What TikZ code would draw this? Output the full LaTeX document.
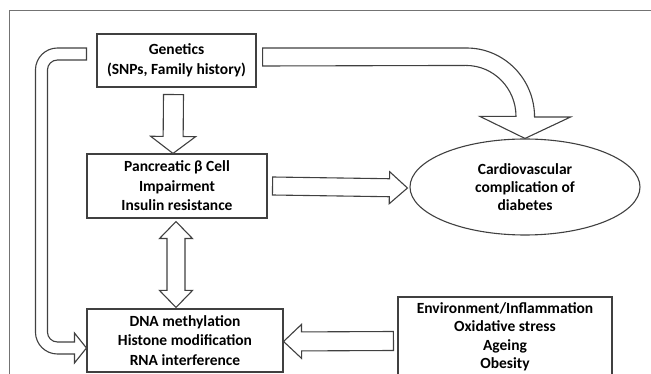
\documentclass[tikz,border=0pt]{standalone}
\usepackage{fontspec}
\setmainfont{Carlito}
\usetikzlibrary{calc,shapes.geometric}

% straight block arrow: start, tip, shaft half width, head half width, head length
\newcommand\blockarrow[5]{\draw[blockline] let \p1=(#1), \p2=(#2), \n1={atan2(\y2-\y1,\x2-\x1)} in
  ($(\p1)+(\n1+90:#3)$) -- ($(\p2)+(\n1+180:#5)+(\n1+90:#3)$) -- ($(\p2)+(\n1+180:#5)+(\n1+90:#4)$) -- (\p2)
  -- ($(\p2)+(\n1+180:#5)+(\n1-90:#4)$) -- ($(\p2)+(\n1+180:#5)+(\n1-90:#3)$) -- ($(\p1)+(\n1-90:#3)$) -- cycle;}
% same with a head at both ends
\newcommand\dblarrow[5]{\draw[blockline] let \p1=(#1), \p2=(#2), \n1={atan2(\y2-\y1,\x2-\x1)} in
  (\p1) -- ($(\p1)+(\n1:#5)+(\n1+90:#4)$) -- ($(\p1)+(\n1:#5)+(\n1+90:#3)$) -- ($(\p2)+(\n1+180:#5)+(\n1+90:#3)$)
  -- ($(\p2)+(\n1+180:#5)+(\n1+90:#4)$) -- (\p2) -- ($(\p2)+(\n1+180:#5)+(\n1-90:#4)$) -- ($(\p2)+(\n1+180:#5)+(\n1-90:#3)$)
  -- ($(\p1)+(\n1:#5)+(\n1-90:#3)$) -- ($(\p1)+(\n1:#5)+(\n1-90:#4)$) -- cycle;}

\begin{document}
\begin{tikzpicture}[
    x=1pt, y=-1pt,
    font=\bfseries\fontsize{15.5}{19.5}\selectfont,
    blockline/.style={draw=black!75, line width=1.1pt, fill=white, line join=miter},
    factorbox/.style={draw=black!75, line width=1.1pt, align=center, inner sep=2pt},
    outcome/.style={factorbox, ellipse, minimum width=230pt, minimum height=96pt, font=\bfseries\fontsize{15.5}{18}\selectfont}
  ]
  \clip (0,0) rectangle (651,374);
  \draw[black!55, line width=1pt] (9,374) |- (651,11);

  \node[factorbox, minimum width=159pt, minimum height=53pt] (gen) at (176.5,60.5) {Genetics\\(SNPs, Family history)};
  \node[factorbox, minimum width=180pt, minimum height=64pt] (pan) at (177,186) {Pancreatic β Cell\\Impairment\\Insulin resistance};
  \node[factorbox, minimum width=196pt, minimum height=63pt] (dna) at (185,340.5) {DNA methylation\\Histone modification\\RNA interference};
  \node[factorbox, minimum width=214pt, minimum height=80pt, font=\bfseries\fontsize{15.5}{18.5}\selectfont] (env) at (505,337) {Environment/Inflammation\\Oxidative stress\\Ageing\\Obesity};
  \node[outcome] (ell) at (525,187) {Cardiovascular\\complication of\\diabetes};

  \blockarrow{$(gen.south)+(-3,7)$}{$(pan.north)+(-4,0)$}{10pt}{22.5pt}{17pt}
  \blockarrow{$(pan.east)+(5,0)$}{$(ell.west)+(-2,1)$}{9pt}{16pt}{18pt}
  \blockarrow{$(env.west)+(-4,4)$}{$(dna.east)+(0,1)$}{9.5pt}{17pt}{18pt}
  \dblarrow{$(pan.south)+(-1,3)$}{$(pan.south |- dna.north)+(-1,-1)$}{9pt}{16.5pt}{17pt}

  % genetics -> cardiovascular complication
  \draw[blockline] ($(gen.east)+(6,-12.5)$) -- ++(204,0) arc[start angle=90, end angle=0, x radius=68pt, y radius=69pt]
    -- ++(36,0) -- (ell.north) -- ++(-45,-22) -- ++(36,0) arc[start angle=0, end angle=90, x radius=50pt, y radius=51pt]
    -- ($(gen.east)+(6,5.5)$) -- cycle;
  % genetics -> DNA methylation
  \draw[blockline] ($(gen.west)+(-10,-12.5)$) -- ++(-29,0) arc[start angle=90, end angle=180, radius=22pt] -- ++(0,262)
    arc[start angle=180, end angle=270, radius=22pt] -- ++(17,0) -- ++(0,9) -- ($(dna.west)+(0,7.5)$) -- ++(-12,-15)
    -- ++(0,9) -- ++(-17,0) arc[start angle=270, end angle=180, radius=10pt] -- ++(0,-262)
    arc[start angle=180, end angle=90, radius=10pt] -- ($(gen.west)+(-10,-0.5)$) -- cycle;
\end{tikzpicture}
\end{document}
